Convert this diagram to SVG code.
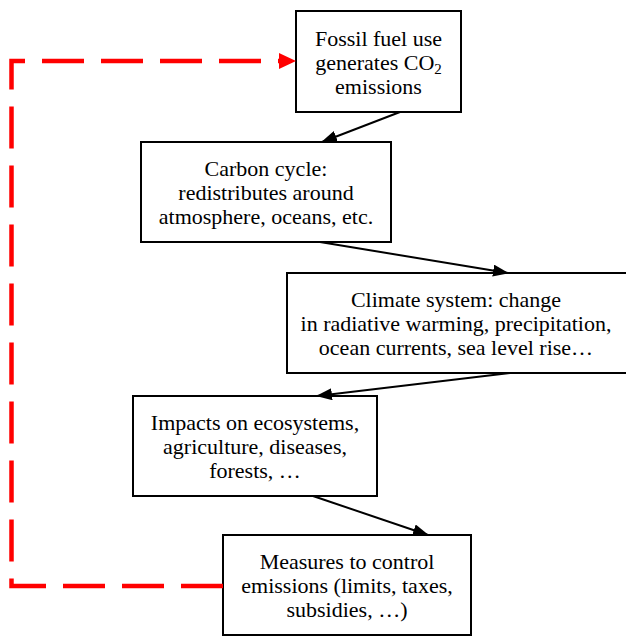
<svg xmlns="http://www.w3.org/2000/svg" width="626" height="637" viewBox="0 0 626 637">
<style>
.box{fill:#fff;stroke:#000;stroke-width:2}
text{font-family:'Liberation Serif','Times New Roman',serif;font-size:22px;fill:#000;text-anchor:middle}
.c{stroke:#000;stroke-width:2;fill:none;marker-end:url(#ah)}
.fb{stroke:#f00;stroke-width:4.5;fill:none;stroke-dasharray:42 17}
</style>
<defs>
<marker id="ah" markerUnits="userSpaceOnUse" markerWidth="16" markerHeight="12" refX="15" refY="6" orient="auto">
<path d="M0,0 L16,6 L0,12 Z" fill="#000"/>
</marker>
</defs>
<g id="fossil">
<rect class="box" x="296" y="11" width="165" height="101"/>
<text x="378.5" y="46">Fossil fuel use</text>
<text x="378.5" y="70">generates CO<tspan font-size="15" dy="4">2</tspan></text>
<text x="378.5" y="94">emissions</text>
</g>
<g id="carbon">
<rect class="box" x="141" y="142" width="250" height="100"/>
<text x="266" y="176">Carbon cycle:</text>
<text x="266" y="200">redistributes around</text>
<text x="266" y="224">atmosphere, oceans, etc.</text>
</g>
<g id="climate">
<rect class="box" x="287" y="273" width="342" height="100"/>
<text x="456" y="307">Climate system: change</text>
<text x="456" y="331">in radiative warming, precipitation,</text>
<text x="456" y="355">ocean currents, sea level rise…</text>
</g>
<g id="impacts">
<rect class="box" x="133" y="396" width="244" height="100"/>
<text x="255" y="430">Impacts on ecosystems,</text>
<text x="255" y="454">agriculture, diseases,</text>
<text x="255" y="478">forests, …</text>
</g>
<g id="measures">
<rect class="box" x="223" y="535" width="248" height="100"/>
<text x="347" y="569">Measures to control</text>
<text x="347" y="593">emissions (limits, taxes,</text>
<text x="347" y="617">subsidies, …)</text>
</g>
<g id="connectors">
<line class="c" x1="400" y1="112" x2="322" y2="142"/>
<line class="c" x1="320" y1="242" x2="508" y2="273"/>
<line class="c" x1="510" y1="373" x2="317" y2="396"/>
<line class="c" x1="313" y1="496" x2="428" y2="535"/>
<path class="fb" d="M223,586 L11.5,586 L11.5,61 L279,61"/>
<path d="M279,53 L296,61 L279,69 Z" fill="#f00"/>
</g>
</svg>
